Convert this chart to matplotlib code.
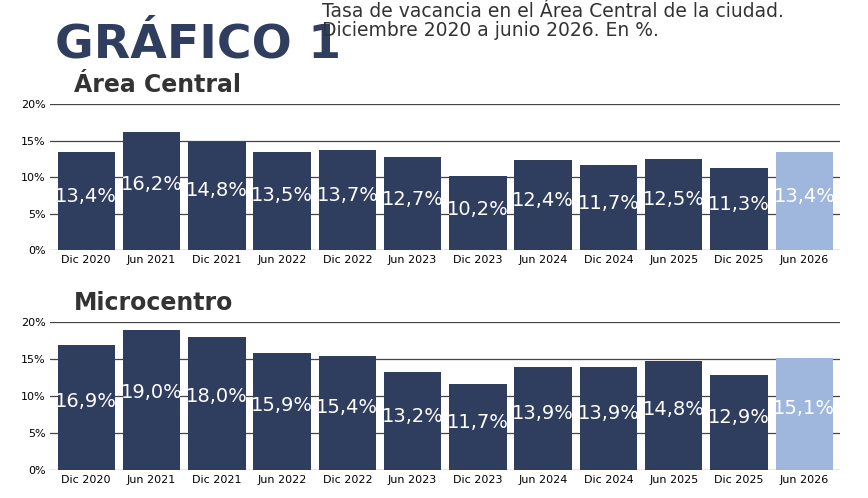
import matplotlib.pyplot as plt

periods = ["Dic 2020", "Jun 2021", "Dic 2021", "Jun 2022", "Dic 2022", "Jun 2023",
           "Dic 2023", "Jun 2024", "Dic 2024", "Jun 2025", "Dic 2025", "Jun 2026"]
area_central = [13.4, 16.2, 14.8, 13.5, 13.7, 12.7, 10.2, 12.4, 11.7, 12.5, 11.3, 13.4]
microcentro = [16.9, 19.0, 18.0, 15.9, 15.4, 13.2, 11.7, 13.9, 13.9, 14.8, 12.9, 15.1]
yticks = [0, 5, 10, 15, 20]

navy = "#2f3d5f"
light = "#9fb7dc"
narrow = ["Liberation Sans Narrow", "DejaVu Sans"]

fig = plt.figure(figsize=(8.68, 4.98), dpi=100)
fig.text(0.063, 0.955, "GRÁFICO 1", fontsize=34, fontweight="bold", color="#2f3d5f",
         va="top", ha="left", family=["Liberation Sans Narrow", "DejaVu Sans"])
fig.text(0.371, 0.995, "Tasa de vacancia en el Área Central de la ciudad.\nDiciembre 2020 a junio 2026. En %.",
         fontsize=13.5, color="#333333", va="top", ha="left", linespacing=1.0)


def panel(rect, values, title):
    ax = fig.add_axes(rect)
    colors = [navy] * (len(values) - 1) + [light]
    x = range(len(values))
    ax.bar(x, values, width=0.88, color=colors, zorder=3)
    for xi, v in zip(x, values):
        ax.text(xi, v * 0.55, f"{v:.1f}%".replace(".", ","), ha="center", va="center",
                color="white", fontsize=14, family=narrow, zorder=4)
    ax.set_ylim(0, 20)
    ax.set_xlim(-0.55, len(values) - 0.45)
    ax.set_yticks(yticks)
    ax.set_yticklabels([f"{t}%" for t in yticks], fontsize=8)
    ax.set_xticks(list(x))
    ax.set_xticklabels(periods, fontsize=8)
    ax.tick_params(length=0)
    ax.grid(axis="y", color="#444444", linewidth=0.9, zorder=0)
    for s in ax.spines.values():
        s.set_visible(False)
    ax.text(0.03, 1.05, title, transform=ax.transAxes, fontsize=17, fontweight="bold",
            color="#333333", ha="left", va="bottom")
    return ax


panel([0.058, 0.498, 0.91, 0.293], area_central, "Área Central")
panel([0.058, 0.056, 0.91, 0.297], microcentro, "Microcentro")

fig.savefig("out.png", dpi=100)
